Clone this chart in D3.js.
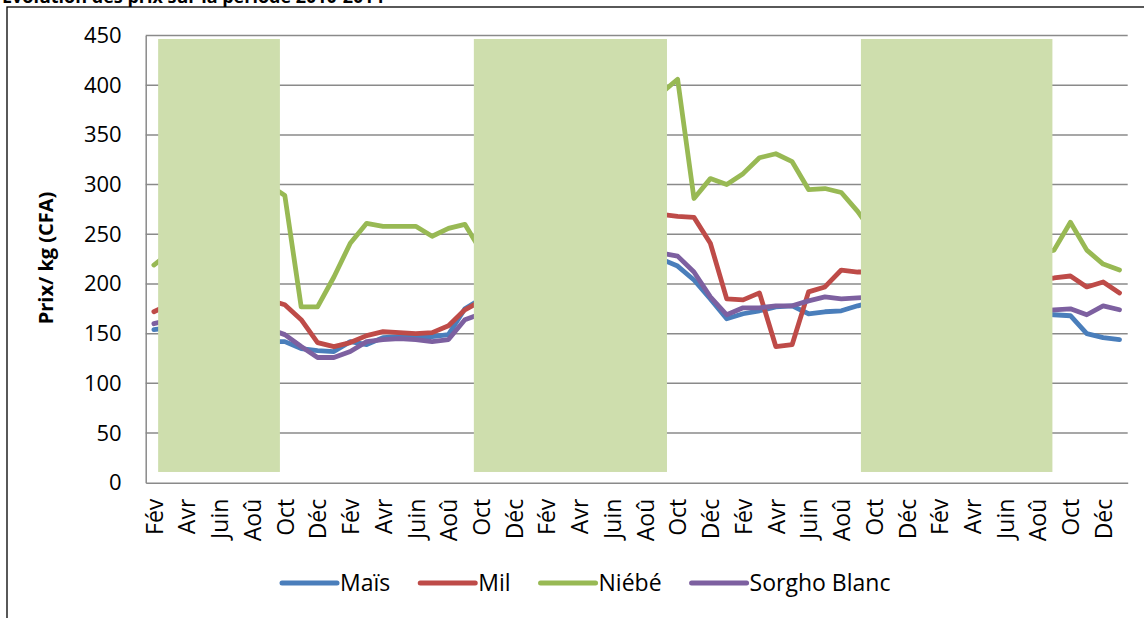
<!DOCTYPE html>
<html>
<head>
<meta charset="utf-8">
<script src="https://cdnjs.cloudflare.com/ajax/libs/d3/7.8.5/d3.min.js"></script>
<style>
	body { margin: 0; background: #fff; }
	svg { display: block; font-family: "Open Sans", sans-serif; }
</style>
</head>
<body>
<svg id="chart" width="1144" height="618"></svg>
<script>
// Tick labels shown every 2 months (first month of the series is Fév)
var moisLabels = ["Fév","Avr","Juin","Aoû","Oct","Déc","Fév","Avr","Juin","Aoû","Oct","Déc",
	"Fév","Avr","Juin","Aoû","Oct","Déc","Fév","Avr","Juin","Aoû","Oct","Déc",
	"Fév","Avr","Juin","Aoû","Oct","Déc"];
var yTicks = [0, 50, 100, 150, 200, 250, 300, 350, 400, 450];

var series = ["Maïs", "Mil", "Niébé", "Sorgho Blanc"];
var colors = ["#4a7ebb", "#be4b48", "#98b954", "#7d60a0"];

// monthly prices (CFA/kg), null = hidden behind the green masks
var mais = [154, 156, null, null, null, null, null, 142, 142, 135, 133, 132, 142, 139, 146, 147, 147, 147, 149, 175,
	185, null, null, null, null, null, null, null, null, null, null, 225, 218, 204, 185, 165, 170, 173, 177, 178,
	170, 172, 173, 178, 182, null, null, null, null, null, null, null, null, null, 170, 169, 168, 150, 146, 144];
var mil = [172, 180, null, null, null, null, null, 184, 179, 164, 141, 137, 141, 148, 152, 151, 150, 151, 158, 174,
	183, null, null, null, null, null, null, null, null, null, null, 270, 268, 267, 241, 185, 184, 191, 137, 139,
	192, 197, 214, 212, 212, null, null, null, null, null, null, null, null, null, 205, 206, 208, 197, 202, 191];
var niebe = [219, 232, null, null, null, null, null, 300, 289, 177, 177, 207, 241, 261, 258, 258, 258, 248, 256, 260,
	233, null, null, null, null, null, null, null, null, null, null, 392, 406, 286, 306, 300, 311, 327, 331, 323,
	295, 296, 292, 273, 250, null, null, null, null, null, null, null, null, null, 230, 234, 262, 234, 220, 214];
var sorgho = [160, 164, null, null, null, null, null, 155, 149, 137, 126, 126, 132, 142, 144, 145, 144, 142, 144, 164,
	170, null, null, null, null, null, null, null, null, null, null, 231, 228, 212, 187, 169, 176, 176, 178, 178,
	183, 187, 185, 186, 187, null, null, null, null, null, null, null, null, null, 173, 174, 175, 169, 178, 174];

// green masks drawn over the chart, in month index units
var masques = [[0.26, 7.7], [19.55, 31.35], [43.2, 54.9]];
var masqueHaut = 446.5, masqueBas = 10.8;

var svg = d3.select("#chart"),
	plotLeft = 145.7, plotRight = 1127.7, plotTop = 35.5, plotBottom = 482.7;

svg.append("rect").attr("width", 1144).attr("height", 618).attr("fill", "#fff");

// chart title (cut off at the top of the picture)
svg.append("text")
	.attr("x", 2)
	.attr("y", 3)
	.attr("font-weight", "bold")
	.attr("font-size", 18)
	.text("Evolution des prix sur la période 2010-2014");

// outer border (only top and left visible)
svg.append("rect")
	.attr("x", 7).attr("y", 7)
	.attr("width", 1300).attr("height", 800)
	.attr("fill", "none")
	.attr("stroke", "#000")
	.attr("stroke-width", 1.3);

var n = mais.length;
var x = d3.scaleLinear().domain([-0.5, n - 0.5]).range([plotLeft, plotRight]);
var y = d3.scaleLinear().domain([0, 450]).range([plotBottom, plotTop]);

// gridlines
svg.append("g")
	.selectAll("line")
	.data(yTicks.slice(1))
	.enter().append("line")
	.attr("x1", plotLeft).attr("x2", plotRight)
	.attr("y1", function(d) { return y(d); })
	.attr("y2", function(d) { return y(d); })
	.attr("stroke", "#8a8a8a")
	.attr("stroke-width", 1.5);

// lines
var line = d3.line()
	.defined(function(d) { return d != null; })
	.x(function(d, i) { return x(i); })
	.y(function(d) { return y(d); });

var data = [mais, mil, niebe, sorgho];
svg.append("g")
	.selectAll("path")
	.data(data)
	.enter().append("path")
	.attr("d", line)
	.attr("fill", "none")
	.attr("stroke", function(d, i) { return colors[i]; })
	.attr("stroke-width", 4.8)
	.attr("stroke-linejoin", "round")
	.attr("stroke-linecap", "round");

// green masks
svg.append("g")
	.selectAll("rect")
	.data(masques)
	.enter().append("rect")
	.attr("x", function(d) { return x(d[0]); })
	.attr("width", function(d) { return x(d[1]) - x(d[0]); })
	.attr("y", y(masqueHaut))
	.attr("height", y(masqueBas) - y(masqueHaut))
	.attr("fill", "#cedead");

// y axis
var yAxis = svg.append("g")
	.attr("transform", "translate(" + plotLeft + ",0)")
	.call(d3.axisLeft(y).tickValues(yTicks).tickSize(0).tickPadding(24));
yAxis.select(".domain").attr("stroke", "#8a8a8a").attr("stroke-width", 1.5);
yAxis.selectAll("text").attr("font-size", 22).attr("font-family", "Open Sans").attr("fill", "#000");

// x axis
var xAxis = svg.append("g")
	.attr("transform", "translate(0," + plotBottom + ")")
	.call(d3.axisBottom(x)
		.tickValues(d3.range(0, n, 2))
		.tickFormat(function(d, i) { return moisLabels[i]; })
		.tickSize(0));
xAxis.select(".domain").attr("stroke", "#8a8a8a").attr("stroke-width", 1.5);
xAxis.selectAll("text")
	.attr("font-size", 23)
	.attr("font-family", "Open Sans")
	.attr("fill", "#000")
	.attr("transform", "rotate(-90)")
	.attr("x", -16)
	.attr("y", 0)
	.attr("dy", "0.36em")
	.style("text-anchor", "end");

// y axis title
svg.append("text")
	.attr("transform", "translate(46,258) rotate(-90)")
	.attr("text-anchor", "middle")
	.attr("dy", "0.35em")
	.attr("font-weight", "bold")
	.attr("font-size", 20)
	.text("Prix/ kg (CFA)");

// legend
var legend = svg.append("g").attr("font-size", 23);
var lx = 282;
series.forEach(function(s, i) {
	legend.append("line")
		.attr("x1", lx).attr("x2", lx + 55)
		.attr("y1", 583).attr("y2", 583)
		.attr("stroke", colors[i])
		.attr("stroke-width", 5)
		.attr("stroke-linecap", "round");
	var t = legend.append("text")
		.attr("x", lx + 58)
		.attr("y", 583)
		.attr("dy", "0.35em")
		.text(s);
	lx += 58 + t.node().getComputedTextLength() + 30;
});
</script>
</body>
</html>
